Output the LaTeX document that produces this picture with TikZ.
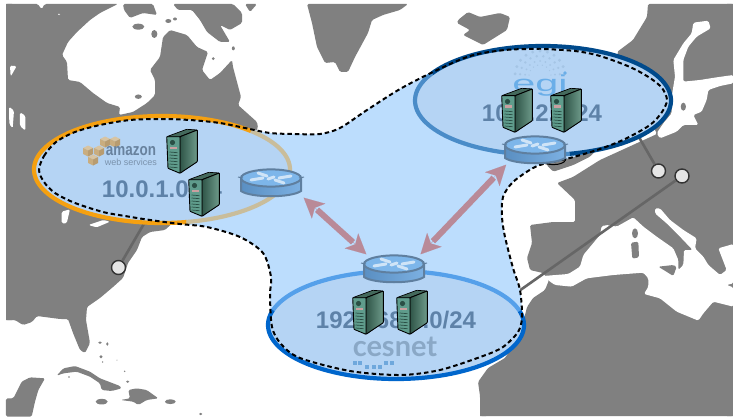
\documentclass[tikz,border=0pt]{standalone}
\usepackage{fontspec}
\usepackage{graphicx}
\setmainfont{Liberation Sans}
\newfontfamily\latofont{Lato}
\usetikzlibrary{arrows.meta}
\definecolor{land}{HTML}{808080}
\definecolor{blobfill}{HTML}{BCDDFD}
\definecolor{ovalfill}{HTML}{B5D4F4}
\definecolor{iptext}{HTML}{5E82A8}
\definecolor{arrowc}{HTML}{B98A98}
\definecolor{cablec}{HTML}{666666}
\definecolor{awsc}{HTML}{C9AD7F}
\definecolor{awstop}{HTML}{D8C4A2}
\definecolor{awsdark}{HTML}{B89C70}
\definecolor{srvtop}{HTML}{44695C}
\definecolor{srvdark}{HTML}{2F5548}
\definecolor{srvlight}{HTML}{6E9A8A}
\definecolor{srvfront}{HTML}{5F9C8C}
\definecolor{srvline}{HTML}{2A4F45}
\definecolor{srvpink}{HTML}{C9A0A0}
\definecolor{rtline}{HTML}{5F7F9F}
\definecolor{rtleft}{HTML}{5A8FC2}
\definecolor{rtright}{HTML}{7CB0E2}
\definecolor{rttop}{HTML}{7DB6EA}
\definecolor{rtmark}{HTML}{CFE4F7}
\definecolor{tanring}{HTML}{C9BD9B}
\definecolor{cablefade}{HTML}{8AA5BF}
\definecolor{orangering}{HTML}{F5A010}
\definecolor{egiin}{HTML}{4A8CC8}
\definecolor{egiout}{HTML}{004A8C}
\definecolor{cesin}{HTML}{55A0EA}
\definecolor{cesout}{HTML}{0066CC}
\definecolor{awstexta}{HTML}{68829E}
\definecolor{awstextb}{HTML}{7A92AC}
\definecolor{egidot}{HTML}{A5C5E5}
\definecolor{egitext}{HTML}{6AAEE8}
\definecolor{cestext}{HTML}{8AA8C6}
\definecolor{cesdot}{HTML}{6FA8DC}
\tikzset{
  landshape/.style={fill=land,draw=none,rounded corners=1.5pt},
  seashape/.style={fill=white,draw=none,rounded corners=1.5pt},
  z1/.style={x=.33333pt,y=-.33333pt},
  iplabel/.style={text=iptext,font=\bfseries\fontsize{24}{24}\selectfont,inner sep=0pt},
  endpoint/.style={circle,fill=black!10,draw=black!80,line width=1.4pt,minimum size=14pt,inner sep=0pt},
  routerarea/.style={minimum width=65pt,minimum height=29pt,inner sep=0pt,draw=none},
  cable/.style={draw=cablec,line width=2.6pt},
  shaft/.style={draw=arrowc,line width=6pt,shorten <=18pt,shorten >=18pt},
  tips/.style={draw=arrowc,fill=arrowc,line width=.1pt,{Stealth[length=20pt,width=20pt,inset=5pt]}-{Stealth[length=20pt,width=20pt,inset=5pt]}},
  ring/.style={line width=4.2pt},
  awscube/.pic={
    \fill[fill=awstop] (-5,-3)--(0,-5.5)--(5,-3)--(0,-.5)--cycle;
    \fill[fill=awsc] (-5,-3)--(0,-.5)--(0,5.5)--(-5,3)--cycle;
    \fill[fill=awsdark] (5,-3)--(0,-.5)--(0,5.5)--(5,3)--cycle;
  },
  serverpic/.pic={
    \filldraw[fill=srvtop,draw=black,line width=.7pt,rounded corners=.6pt] (-15.3,-13.3)--(4.7,-20.7)--(15.3,-20)--(-2,-13.3)--cycle;
    \filldraw[draw=black,line width=.9pt,left color=srvdark,right color=srvlight,rounded corners=.6pt] (-2,-13.3)--(15.3,-20)--(15.3,11.7)--(-2,23.3)--cycle;
    \filldraw[fill=srvfront,draw=black,line width=.9pt,rounded corners=.6pt] (-15.3,-13.3)--(-2,-13.3)--(-2,23.3)--(-14,18.3)--cycle;
    \fill[srvline] (-9.5,-7.5) circle (2.6pt);
    \fill[srvpink] (-12.5,-3.5)--(-5,-3.5)--(-5,-.8)--(-12.5,-.8)--cycle;
    \foreach \yy in {2,5,...,17}{\draw[srvline,line width=.7pt] (-12.5,\yy)--(-4.5,\yy+.7);}
  },
  routerpic/.pic={
    \filldraw[draw=rtline,line width=2pt,left color=rtleft,right color=rtright] (-30,-5)--(-30,8) .. controls (-20,15) and (20,15) .. (30,8)--(30,-5)--cycle;
    \filldraw[fill=rttop,draw=rtline,line width=2pt] (0,-5) ellipse [x radius=30pt,y radius=8.6pt];
    \draw[rtline,line width=1pt] (-33,-6)--(-28,-5) (33,-6)--(28,-5);
    \draw[rtmark,line width=3pt,line cap=round] (-20,-3)--(-8,-5) (-13,-10)--(-4,-7) (20,-7)--(8,-5) (13,0)--(4,-3) (-3,-4)--(3,-6);
  },
}
\begin{document}
\begin{tikzpicture}[x=1pt,y=-1pt]
\useasboundingbox (0,0) rectangle (733,417);
\fill[white] (0,0) rectangle (733,417);
% North America
\path[landshape] (6,4)--(38,4)--(41,9)--(45,4)--(118,4)--(100,13)--(90,20)--(77,32)--(68,42)--(62,55)--(67,62)--(68,80)--(80,82)--(93,93)--(107,103)--(120,107)--(119,115)--(133,112)--(147,103)--(155,95)--(155,80)--(150,70)--(160,57)--(163,37)--(170,30)--(187,35)--(197,47)--(208,52)--(202,70)--(210,80)--(220,73)--(232,60)--(233,67)--(241,97)--(238,105)--(257,122)--(258,128)--(230,170)--(165,230)--(150,232)--(142,237)--(137,250)--(128,263)--(123,278)--(113,287)--(100,298)--(87,307)--(86,320)--(90,343)--(85,353)--(80,350)--(73,333)--(68,319)--(60,319)--(37,316)--(32,322)--(23,325)--(15,320)--(6,320)--cycle;
\fill[land] (6,4) rectangle (12,10) (6,314) rectangle (12,320);
% arctic islands
\path[landshape] (123,4)--(124,10)--(130,18)--(143,13)--(157,15)--(153,4)--cycle;
\path[landshape] (173,4)--(178,10)--(192,10)--(200,20)--(207,32)--(220,42)--(230,42)--(220,25)--(230,30)--(242,23)--(242,13)--(233,4)--cycle;
\path[landshape] (245,4)--(250,12)--(257,4)--cycle;
\path[landshape] (307,4)--(312,23)--(317,47)--(325,63)--(335,62)--(340,72)--(348,72)--(355,57)--(368,33)--(372,20)--(383,15)--(400,10)--(408,4)--cycle;
\path[landshape] (458,20)--(468,12)--(480,17)--(500,13)--(510,17)--(507,30)--(483,45)--(463,35)--(470,30)--(457,23)--cycle;
\begin{scope}[z1]
\fill[land] (415,80) ellipse [x radius=6pt,y radius=3pt] (463,102) ellipse [x radius=3pt,y radius=4pt] (505,63) ellipse [x radius=3pt,y radius=2pt] (525,57) ellipse [x radius=2pt,y radius=1.5pt] (415,290) ellipse [x radius=3.5pt,y radius=2.2pt] (640,176) ellipse [x radius=1.5pt,y radius=1.5pt] (700,145) ellipse [x radius=1.5pt,y radius=2pt];
\path[seashape] (30,197)--(50,198)--(32,230)--cycle (27,320)--(42,332)--(38,385)--(28,372)--cycle (60,337)--(76,347)--(76,392)--(60,378)--cycle (120,14)--(132,14)--(125,28)--cycle (172,40)--(182,42)--(178,48)--cycle;
\end{scope}
\begin{scope}[shift={(0,90)},z1]
\path[seashape] (185,365)--(210,358)--(200,400)--(185,400)--cycle (265,405)--(310,390)--(330,395)--(290,412)--cycle;
\end{scope}
% Caribbean
\begin{scope}[shift={(0,230)},z1]
\path[landshape] (170,437)--(190,415)--(225,408)--(270,425)--(300,445)--(360,468)--(365,475)--(335,483)--(305,480)--(300,460)--(270,440)--(230,425)--(190,430)--cycle;
\path[landshape] (362,510)--(390,505)--(385,480)--(410,475)--(440,480)--(475,505)--(440,510)--(415,525)--(400,515)--cycle;
\path[landshape] (18,505)--(40,505)--(65,455)--(90,442)--(135,445)--(115,480)--(105,515)--(95,560)--(18,560)--cycle;
\fill[land] (305,515) ellipse [x radius=6pt,y radius=2.8pt] (511,515) ellipse [x radius=5.4pt,y radius=2.4pt] (300,338) ellipse [x radius=1.8pt,y radius=1.2pt] (322,342) ellipse [x radius=1.2pt,y radius=1.8pt] (303,380) ellipse [x radius=1.6pt,y radius=1.6pt] (308,396) circle (.8pt) (383,455) ellipse [x radius=1.6pt,y radius=1.2pt] (602,552) ellipse [x radius=1.6pt,y radius=1.2pt] (207,441) circle (.9pt) (374,424) circle (.8pt) (351,390) circle (.5pt);
\end{scope}
% Europe and Africa
\path[landshape] (648,4)--(733,4)--(733,416)--(480,416)--(480,396)--(478,382)--(488,368)--(505,358)--(520,335)--(527,307)--(533,298)--(545,290)--(549,280)--(543,273)--(530,270)--(527,258)--(532,243)--(530,225)--(553,222)--(575,222)--(575,200)--(557,183)--(573,177)--(600,160)--(657,134)--(640,100)--(617,52)--(633,40)--(647,17)--cycle;
\fill[land] (727,4) rectangle (733,10) (727,410) rectangle (733,416) (480,410) rectangle (486,416);
\begin{scope}[shift={(400,0)},z1]
\path[landshape] (440,495)--(460,515)--(520,495)--(570,470)--(590,450)--(450,450)--cycle;
\path[seashape] (880,68)--(925,62)--(932,85)--(890,110)--(865,140)--(850,180)--(850,245)--(900,240)--(950,232)--(1000,225)--(1000,250)--(960,258)--(925,270)--(920,300)--(905,335)--(880,345)--(895,375)--(850,375)--(830,395)--(780,415)--(770,400)--(790,370)--(815,340)--(815,290)--(825,230)--(820,180)--(850,130)--(875,100)--cycle;
\fill[land] (850,320) ellipse [x radius=2.6pt,y radius=4pt] (865,235) circle (1.2pt);
\end{scope}
\begin{scope}[shift={(500,170)},z1]
\path[seashape] (130,318)--(205,312)--(240,290)--(250,255)--(300,195)--(305,168)--(325,165)--(350,170)--(400,142)--(430,170)--(470,200)--(520,235)--(535,270)--(535,300)--(550,285)--(552,240)--(578,240)--(540,200)--(500,160)--(465,130)--(465,115)--(480,115)--(510,150)--(550,180)--(590,205)--(585,235)--(610,260)--(625,285)--(660,315)--(680,300)--(655,235)--(700,222)--(700,340)--(680,345)--(700,352)--(700,410)--(640,395)--(610,430)--(595,452)--(530,425)--(480,385)--(432,372)--(445,350)--(445,325)--(430,308)--(340,315)--(260,325)--(215,350)--(165,345)--(150,335)--cycle;
\path[landshape] (475,290)--(520,285)--(530,290)--(520,318)--cycle;
\fill[land] (405,190) ellipse [x radius=3pt,y radius=5pt];
\path[landshape] (393,218)--(415,215)--(417,262)--(397,266)--cycle;
\end{scope}
% cables and endpoints
\node[endpoint] (ep1) at (118.5,267.5) {};
\node[endpoint] (ep2) at (658.5,171) {};
\node[endpoint] (ep3) at (682,176) {};
\coordinate (c1) at (145,222);
\coordinate (c2) at (636,132);
\coordinate (c3) at (510,296.5);
\coordinate (c3b) at (519,291);
\draw[cable] (ep1) -- (c1);
\draw[cable] (ep2) -- (c2);
\draw[cable] (ep3) -- (c3b);
\draw[draw=cablefade,line width=2.6pt] (c3b) -- (c3);
% group area
\def\blobpts{(39,170)(44,156)(56,142)(75,132)(100,125)(130,120)(160,119)(190,120)(220,123)(245,128)(270,133)(295,134)(320,134)(340,128)(367,110)(400,89)(433,72)(470,56)(505,50)(540,49)(575,51)(600,56)(630,67)(650,78)(662,88)(667,100)(662,112)(650,125)(625,139)(600,149)(570,158)(547,163)(533,168)(513,182)(503,197)(502,217)(505,237)(513,268)(520,290)(522,317)(518,332)(503,347)(483,356)(440,370)(400,375)(350,371)(300,358)(281,344)(272,327)(270,295)(271,277)(263,253)(240,237)(207,227)(180,224)(150,220)(125,216)(103,212)(75,203)(55,193)(44,182)}
\fill[blobfill] plot[smooth cycle,tension=.5] coordinates {\blobpts};
% ovals
\fill[ovalfill] plot[domain=0:360,samples=90,smooth] ({162+128*cos(\x)},{169.5-53.5*sin(\x)}) -- cycle;
\fill[ovalfill] plot[domain=0:360,samples=90,smooth] ({543+128*cos(\x)},{100.5-54.5*sin(\x)}) -- cycle;
\fill[ovalfill] plot[domain=0:360,samples=90,smooth] ({396+128*cos(\x)},{325-54*sin(\x)}) -- cycle;
\draw[ring,draw=tanring] plot[domain=-79:46,samples=50,smooth] ({162+128*cos(\x)},{169.5-53.5*sin(\x)});
\draw[ring,draw=orangering] plot[domain=46:281,samples=90,smooth] ({162+128*cos(\x)},{169.5-53.5*sin(\x)});
\draw[ring,draw=egiin] plot[domain=150:282,samples=50,smooth] ({543+128*cos(\x)},{100.5-54.5*sin(\x)});
\draw[ring,draw=egiout] plot[domain=-78:150,samples=90,smooth] ({543+128*cos(\x)},{100.5-54.5*sin(\x)});
\draw[ring,draw=cesin] plot[domain=15:164,samples=50,smooth] ({396+128*cos(\x)},{325-54*sin(\x)});
\draw[ring,draw=cesout] plot[domain=164:375,samples=90,smooth] ({396+128*cos(\x)},{325-54*sin(\x)});
% dashed outline
\draw[black,line width=2pt,dash pattern=on 4.5pt off 3pt] plot[smooth cycle,tension=.5] coordinates {\blobpts};
\draw[black,line width=1pt] (543,163) .. controls (552,166) and (566,165) .. (566,158);
% logos
\foreach \cx/\cy in {105/142,115/142,88/151,99/151,93/160} {\pic at (\cx,\cy) {awscube};}
\node[text=awstexta,font=\bfseries\fontsize{16}{16}\selectfont,inner sep=0pt] (awsa) at (131,151) {\scalebox{.84}[1.05]{amazon}};
\node[text=awstextb,font=\fontsize{9}{9}\selectfont,inner sep=0pt] (awsb) at (131,162.5) {web services};
\foreach \r/\n/\s in {25/10/1.6,20/9/1.3,15/8/1,11/7/.7} {
  \foreach \i in {0,...,\n} {
    \fill[egidot] ({540+\r*cos(5+170*\i/\n)},{76-\r*sin(5+170*\i/\n)}) circle (\s pt);
  }
}
\fill[egitext] (565,73) circle (1.8pt);
\node[text=egitext,font=\fontsize{23}{23}\selectfont,inner sep=0pt,anchor=base] (egi) at (540,92) {\scalebox{1.8}[1]{egi}};
\node[text=cestext,font=\latofont\bfseries\fontsize{29}{29}\selectfont,inner sep=0pt] (cesnet) at (395,347) {cesnet};
\foreach \sx/\sy in {355/363,360/363,367/367,374/367,380/367,386/363,392/363} {
  \fill[cesdot] (\sx-2,\sy-1.8) rectangle (\sx+2,\sy+1.8);
}
% network labels
\node[iplabel] (net1) at (162,189) {10.0.1.0/24};
\node[iplabel] (net2) at (542,113) {10.0.2.0/24};
\node[iplabel] (net3) at (396,320) {192.168.0.0/24};
% servers
\foreach \sx/\sy in {182/150,204/193,517/109,566/109,368/311,412/311} {\pic at (\sx,\sy) {serverpic};}
% routers
\node[routerarea] (r1) at (271,183) {};
\node[routerarea] (r2) at (535,150) {};
\node[routerarea] (r3) at (394,269) {};
\pic at (r1) {routerpic};
\pic at (r2) {routerpic};
\pic at (r3) {routerpic};
% links
\draw[shaft] (r1.south east) -- (r3.152);
\draw[tips] (r1.south east) -- (r3.152);
\draw[shaft] (r2.207) -- (r3.29);
\draw[tips] (r2.207) -- (r3.29);
\end{tikzpicture}
\end{document}
